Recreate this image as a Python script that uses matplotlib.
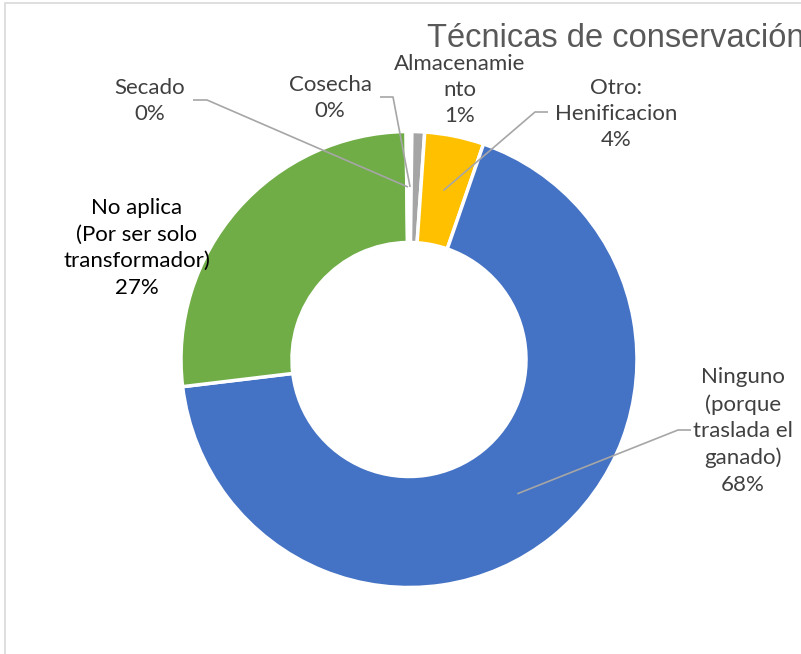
import matplotlib.pyplot as plt
import numpy as np
from matplotlib.patches import Rectangle

# tecnicas de conservacion (porcentaje de productores)
categorias = ['Cosecha', 'Almacenamie\nnto', 'Otro:\nHenificacion',
              'Ninguno\n(porque\ntraslada el\nganado)',
              'No aplica\n(Por ser solo\ntransformador)', 'Secado']
valores = [0.2, 0.9, 4.2, 67.8, 26.7, 0.2]
colores = ['#5B9BD5', '#A5A5A5', '#FFC000', '#4472C4', '#70AD47', '#ED7D31']

W, H = 801, 654
fig = plt.figure(figsize=(W / 100, H / 100), dpi=100)
ax = fig.add_axes([0, 0, 1, 1])

def py(y):
    # pixel row -> data y
    return H - y

cx, cy = 409, py(359.5)
R, ancho = 228, 111
wedges, _ = ax.pie(valores, colors=colores, startangle=90, counterclock=False,
                   radius=R, center=(cx, cy),
                   wedgeprops=dict(width=ancho, edgecolor='white', linewidth=2.5))

# posicion de cada etiqueta y codo de la linea guia (None = sin guia)
pos = [(330, 98), (460, 90), (616, 114), (743, 431), (137, 248), (150, 101)]
codo = [((380, 97), (393, 97)), None, ((548, 112), (535, 112)),
        ((691, 430), (678, 430)), None, ((193, 100), (207, 100))]

rm = R - ancho / 2
for w, cat, v, (x, y), c in zip(wedges, categorias, valores, pos, codo):
    col = 'black' if cat.startswith('No aplica') else '#404040'
    ax.text(x, py(y), f'{cat}\n{v:.0f}%', ha='center', va='center',
            fontsize=16, family='Lato', color=col, linespacing=1.4)
    if c is not None:
        ang = np.deg2rad((w.theta1 + w.theta2) / 2)
        ex, ey = cx + rm * np.cos(ang), cy + rm * np.sin(ang)
        ax.plot([c[0][0], c[1][0], ex], [py(c[0][1]), py(c[1][1]), ey],
                color='#A6A6A6', lw=1.2, solid_capstyle='butt')

ax.text(427, py(47), 'Técnicas de conservación', ha='left', va='baseline',
        fontsize=23.5, family='Liberation Sans', color='#595959')

# marco del grafico
ax.add_patch(Rectangle((4.5, py(680)), 830, 677, fill=False,
                       edgecolor='#D9D9D9', lw=1.2))

ax.set_xlim(0, W)
ax.set_ylim(0, H)
ax.axis('off')
fig.savefig('out.png', dpi=100)
